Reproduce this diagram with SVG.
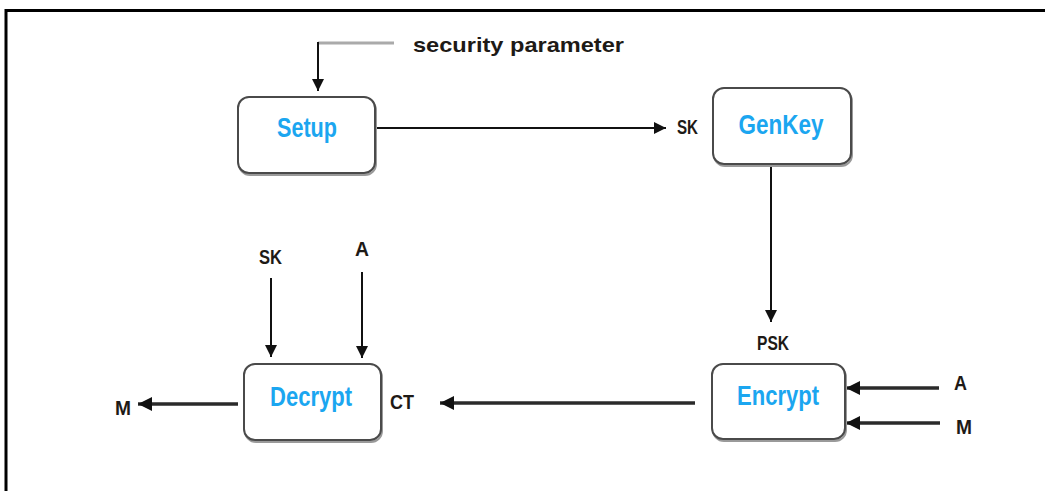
<svg xmlns="http://www.w3.org/2000/svg" width="1045" height="491" viewBox="0 0 1045 491">
  <style>
    .box { fill: #ffffff; stroke: #4a4a4a; stroke-width: 2; }
    .shade { fill: none; stroke: #9a9a9a; stroke-width: 2; }
    .title { font-family: "Liberation Sans", Arial, sans-serif; font-weight: bold; font-size: 27px; fill: #1ba6f0; text-anchor: middle; }
    .lbl { font-family: "Liberation Sans", Arial, sans-serif; font-weight: bold; font-size: 21px; fill: #1e1a16; }
    .wire { stroke: #111; stroke-width: 2; fill: none; }
    .wire-thick { stroke: #2a2a2a; stroke-width: 3.5; fill: none; }
  </style>
  <defs>
    <marker id="arrow" viewBox="0 0 10 10" refX="10" refY="5" markerWidth="6" markerHeight="6" markerUnits="strokeWidth" orient="auto">
      <path d="M0,0 L10,5 L0,10 z" fill="#111"/>
    </marker>
    <marker id="arrow-thick" viewBox="0 0 10 10" refX="10" refY="5" markerWidth="4" markerHeight="4" markerUnits="strokeWidth" orient="auto">
      <path d="M0,0 L10,5 L0,10 z" fill="#111"/>
    </marker>
  </defs>

  <!-- frame -->
  <rect width="1045" height="491" fill="#ffffff"/>
  <path d="M6,491 V10.5 H1045" fill="none" stroke="#000" stroke-width="3"/>

  <!-- connectors -->
  <g id="connectors">
    <path d="M394,43 H318" stroke="#aaaaaa" stroke-width="3" fill="none"/>
    <path class="wire" d="M318,42 V91" marker-end="url(#arrow)"/>
    <path class="wire" d="M376,128 H666" marker-end="url(#arrow)"/>
    <path class="wire" d="M771,166 V322" marker-end="url(#arrow)"/>
    <path class="wire-thick" d="M939,388 H846" marker-end="url(#arrow-thick)"/>
    <path class="wire-thick" d="M940,423 H846" marker-end="url(#arrow-thick)"/>
    <path class="wire-thick" d="M695,403 H440" marker-end="url(#arrow-thick)"/>
    <path class="wire" d="M271,278 V357" marker-end="url(#arrow)"/>
    <path class="wire" d="M362,272 V358" marker-end="url(#arrow)"/>
    <path class="wire-thick" d="M238,404 H138" marker-end="url(#arrow-thick)"/>
  </g>

  <!-- labels -->
  <text class="lbl" x="413" y="52" font-size="19" textLength="211" lengthAdjust="spacingAndGlyphs">security parameter</text>
  <text class="lbl" x="677" y="134" textLength="21" lengthAdjust="spacingAndGlyphs">SK</text>
  <text class="lbl" x="757" y="350" textLength="32" lengthAdjust="spacingAndGlyphs">PSK</text>
  <text class="lbl" x="954" y="390" textLength="13" lengthAdjust="spacingAndGlyphs">A</text>
  <text class="lbl" x="956" y="434" textLength="16" lengthAdjust="spacingAndGlyphs">M</text>
  <text class="lbl" x="390" y="409" textLength="24" lengthAdjust="spacingAndGlyphs">CT</text>
  <text class="lbl" x="259" y="264" textLength="23" lengthAdjust="spacingAndGlyphs">SK</text>
  <text class="lbl" x="355" y="256" textLength="14" lengthAdjust="spacingAndGlyphs">A</text>
  <text class="lbl" x="115" y="415" textLength="16" lengthAdjust="spacingAndGlyphs">M</text>

  <!-- nodes -->
  <g id="setup">
    <rect class="shade" x="239" y="99" width="137" height="76" rx="11"/>
    <rect class="box" x="238" y="97" width="137" height="76" rx="11"/>
    <text class="title" x="307" y="137" textLength="60" lengthAdjust="spacingAndGlyphs">Setup</text>
  </g>
  <g id="genkey">
    <rect class="shade" x="714" y="90" width="138" height="76" rx="11"/>
    <rect class="box" x="713" y="88" width="138" height="76" rx="11"/>
    <text class="title" x="781" y="134" textLength="85" lengthAdjust="spacingAndGlyphs">GenKey</text>
  </g>
  <g id="encrypt">
    <rect class="shade" x="713" y="366" width="133" height="75" rx="11"/>
    <rect class="box" x="712" y="364" width="133" height="75" rx="11"/>
    <text class="title" x="778" y="405" textLength="82" lengthAdjust="spacingAndGlyphs">Encrypt</text>
  </g>
  <g id="decrypt">
    <rect class="shade" x="245" y="366" width="137" height="76" rx="11"/>
    <rect class="box" x="244" y="364" width="137" height="76" rx="11"/>
    <text class="title" x="311" y="406" textLength="82" lengthAdjust="spacingAndGlyphs">Decrypt</text>
  </g>
</svg>
